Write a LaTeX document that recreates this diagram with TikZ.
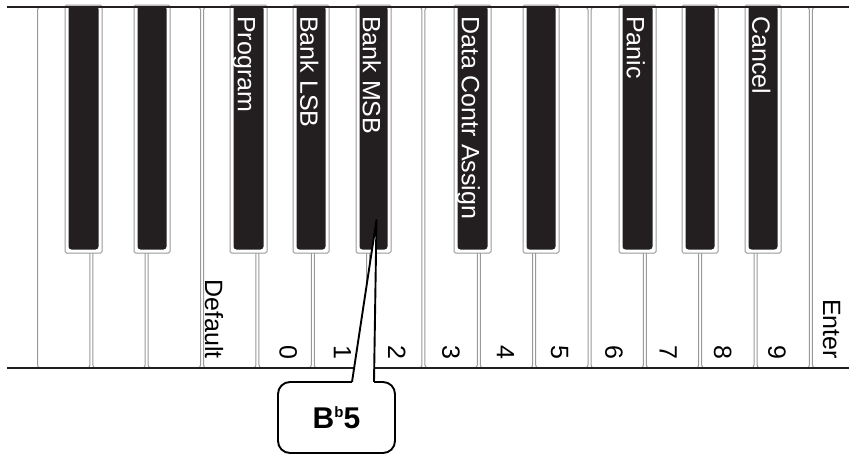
\documentclass[tikz,border=0pt]{standalone}
\usepackage{fontspec}
\setmainfont{Liberation Sans}
\usetikzlibrary{calc}
\definecolor{keyblack}{HTML}{231F20}

\begin{document}
\begin{tikzpicture}[
  x=1pt, y=-1pt,
  wkey/.style={draw=gray!80, line width=1pt, fill=white, rounded corners=3pt},
  bkout/.style={draw=gray!80, line width=1pt, fill=white, rounded corners=1.5pt},
  bkey/.style={fill=keyblack, rounded corners=3pt},
  rail/.style={draw=keyblack, line width=2.4pt},
  klabel/.style={font=\fontsize{25}{25}\selectfont, inner sep=0pt, rotate=-90},
  callout/.style={draw=black, line width=1.9pt, fill=white, rounded corners=12pt,
                  minimum width=117pt, minimum height=71pt, inner sep=0pt},
  pointer/.style={draw=black, line width=1.9pt, line join=round},
]
  \clip (0,0) rectangle (849,455);

  % White keys
  \foreach \k in {0,...,14} {
    \draw[wkey] ({36+55.35*\k+1.5},7) rectangle ({36+55.35*(\k+1)-1.5},368);
  }

  % Black keys (outline, then fill)
  \foreach \l/\r in {65/102, 134/170, 230/267, 293/329, 356/391,
                     454/491, 523/559, 619/656, 682/718, 745/781} {
    \draw[bkout] (\l,5) rectangle (\r,253);
    \fill[bkey] ({\l+3.5},6) rectangle ({\r-3.5},249.5);
  }

  % Labels on black keys
  \foreach \c/\t [count=\i] in {248.5/Program, 311/Bank LSB, 373.5/Bank MSB,
                               472.5/Data Contr Assign, 637.5/Panic, 763/Cancel} {
    \node[klabel, text=white, anchor=base west] (blbl\i) at ({\c-10.7},16) {\t};
  }

  % Labels on white keys
  \node[klabel, anchor=base east] (deflt) at (205,359) {Default};
  \node[klabel, anchor=base east] (enter) at (823,359) {Enter};
  \foreach \d in {0,...,9} {
    \node[klabel, anchor=east] (num\d) at ({288.2+54.3*\d},360) {\d};
  }

  % Rails
  \draw[rail] (7,7) -- (849,7);
  \draw[rail] (7,368) -- (849,368);

  % Callout
  \node[callout] (flatbox) at (336.5,417.5)
    {\fontsize{30}{30}\selectfont\bfseries B\raisebox{11pt}{\fontsize{15}{15}\selectfont b}5};
  \coordinate (tip) at (376.5,220);
  \coordinate (wl) at ($(flatbox.center)+(15.5,-35.5)$);
  \coordinate (wr) at ($(flatbox.center)+(37.5,-35.5)$);
  \fill[white] (tip) -- ($(wl)+(0,1.6)$) -- ($(wr)+(0,1.6)$) -- cycle;
  \draw[pointer] (wl) -- (tip) -- (wr);
\end{tikzpicture}
\end{document}
